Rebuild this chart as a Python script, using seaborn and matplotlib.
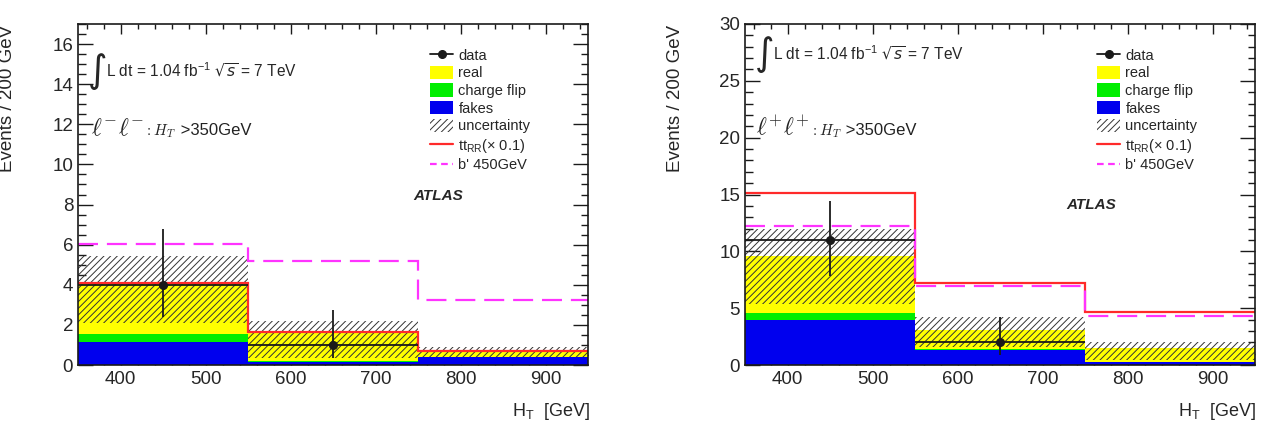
import pandas as pd
import matplotlib
matplotlib.use("Agg")
import matplotlib.pyplot as plt
from matplotlib.lines import Line2D
from matplotlib.patches import Patch
from matplotlib.ticker import MultipleLocator
import seaborn as sns

# bin edges / centres in H_T [GeV]
edges = [350, 550, 750, 950]
centers = [450, 650, 850]
components = ["real", "charge flip", "fakes"]

# l-l- channel
real_mm = [2.55, 1.40, 0.26]
flip_mm = [0.40, 0.05, 0.02]
fakes_mm = [1.15, 0.15, 0.40]
unc_lo_mm = [2.10, 0.35, 0.40]
unc_hi_mm = [5.45, 2.20, 0.92]
ttrr_mm = [4.10, 1.63, 0.68]
bprime_mm = [6.05, 5.17, 3.25]
data_mm = [4, 1]
data_lo_mm = [1.6, 0.65]
data_hi_mm = [2.8, 1.75]

# l+l+ channel
real_pp = [5.05, 1.70, 1.17]
flip_pp = [0.55, 0.10, 0.05]
fakes_pp = [4.00, 1.30, 0.25]
unc_lo_pp = [5.40, 1.60, 0.40]
unc_hi_pp = [12.0, 4.25, 2.05]
ttrr_pp = [15.1, 7.20, 4.65]
bprime_pp = [12.2, 6.95, 4.30]
data_pp = [11, 2]
data_lo_pp = [3.2, 1.1]
data_hi_pp = [3.4, 2.25]

W, H = 1271, 432

sns.set_theme(style="ticks")
plt.rcParams['font.family'] = ['Liberation Sans', 'DejaVu Sans']
plt.rcParams['hatch.linewidth'] = 0.7

colors = {"real": "#ffff00", "charge flip": "#00ee00", "fakes": "#0000ee"}
hatch_col = "#333333"
red = "#ff2a2a"
magenta = "#ff33ff"

fig = plt.figure(figsize=(W / 100, H / 100), dpi=100)


def px_axes(x0, x1, y0, y1):
    return fig.add_axes([x0 / W, 1 - y1 / H, (x1 - x0) / W, (y1 - y0) / H])


def draw_panel(ax, real, flip, fakes, unc_lo, unc_hi, ttrr, bprime,
               data, dlo, dhi, ymax, major, minor):
    df = pd.DataFrame({
        "HT": centers * 3,
        "events": list(real) + list(flip) + list(fakes),
        "comp": ["real"] * 3 + ["charge flip"] * 3 + ["fakes"] * 3,
    })
    sns.histplot(data=df, x="HT", weights="events", hue="comp",
                 hue_order=components, bins=edges, multiple="stack",
                 element="bars", shrink=1, palette=colors, alpha=1,
                 linewidth=0, legend=False, ax=ax)
    ax.stairs(unc_hi, edges, baseline=unc_lo, fill=True, facecolor="none",
              edgecolor=hatch_col, hatch="/////", linewidth=0)
    ax.stairs(ttrr, edges, baseline=None, color=red, lw=1.6)
    ax.stairs(bprime, edges, baseline=None, color=magenta, lw=1.6,
              ls=(0, (9, 4)))
    ax.errorbar(centers[:len(data)], data, xerr=100, yerr=[dlo, dhi],
                fmt="o", color="k", ms=5.5, lw=1.3, capsize=0, zorder=5)
    ax.set_xlim(350, 950)
    ax.set_ylim(0, ymax)
    ax.set_xlabel("")
    ax.set_ylabel("")
    ax.xaxis.set_major_locator(MultipleLocator(100))
    ax.xaxis.set_minor_locator(MultipleLocator(20))
    ax.yaxis.set_major_locator(MultipleLocator(major))
    ax.yaxis.set_minor_locator(MultipleLocator(minor))
    ax.tick_params(which="both", direction="in", top=True, right=True,
                   color="k", width=1, labelsize=13.5)
    ax.tick_params(axis="y", which="major", length=10.8, pad=3.5)
    ax.tick_params(axis="y", which="minor", length=5.4)
    ax.tick_params(axis="x", which="major", length=7.2, pad=4)
    ax.tick_params(axis="x", which="minor", length=3.6)
    for s in ax.spines.values():
        s.set_color("k")
        s.set_linewidth(1.2)
    ax.set_facecolor("white")


ax1 = px_axes(78, 588, 24, 365)
draw_panel(ax1, real_mm, flip_mm, fakes_mm, unc_lo_mm, unc_hi_mm, ttrr_mm,
           bprime_mm, data_mm, data_lo_mm, data_hi_mm, 17, 2, 0.5)
ax2 = px_axes(745, 1255, 24, 365)
draw_panel(ax2, real_pp, flip_pp, fakes_pp, unc_lo_pp, unc_hi_pp, ttrr_pp,
           bprime_pp, data_pp, data_lo_pp, data_hi_pp, 30, 5, 1)


def ftext(x, y, s, **kw):
    return fig.text(x / W, 1 - y / H, s, **kw)


handles = [
    Line2D([], [], color="k", marker="o", ms=5.5, lw=1.3),
    Patch(facecolor=colors["real"], edgecolor="none"),
    Patch(facecolor=colors["charge flip"], edgecolor="none"),
    Patch(facecolor=colors["fakes"], edgecolor="none"),
    Patch(facecolor="white", edgecolor=hatch_col, hatch="/////", lw=0),
    Line2D([], [], color=red, lw=1.6),
    Line2D([], [], color=magenta, lw=1.6, ls=(0, (3, 2))),
]
labels = ["data", "real", "charge flip", "fakes", "uncertainty",
          r"tt$_{\mathregular{RR}}$(× 0.1)", "b' 450GeV"]

panels = [
    (ax1, 78, 70, r"$\ell^{-}\ell^{-}$", 91, 135, 438, 196, 590),
    (ax2, 745, 53, r"$\ell^{+}\ell^{+}$", 756, 135, 1091, 205, 1256),
]
for ax, x0, ylum, lep, xlep, ylep, xatl, yatl, xlab in panels:
    # y label
    ftext(x0 - 70, 25, "Events / 200 GeV", rotation=90, ha="center",
          va="top", fontsize=13.5)
    # x label
    ftext(xlab, 411, r"H$_\mathregular{T}$  [GeV]", ha="right",
          va="center", fontsize=13)
    # luminosity
    ftext(x0 + 10, ylum + 2, "∫", family=["DejaVu Sans"], fontsize=27,
          ha="left", va="center")
    ftext(x0 + 28, ylum, r"L dt = 1.04 fb$^{\mathregular{-1}}$ $\sqrt{s}$ = 7 TeV",
          ha="left", va="center", fontsize=11.2)
    # channel label, all pieces on one baseline
    yb = 1 - ylep / H
    t1 = ftext(xlep, ylep, lep, fontsize=17, math_fontfamily="cm",
               ha="left", va="baseline", color="#222222")
    t2 = ax.annotate(r"$:H_T$", xy=(1, yb), xycoords=(t1, "figure fraction"),
                     fontsize=11, math_fontfamily="cm", ha="left",
                     va="baseline", color="#222222")
    ax.annotate(" >350GeV", xy=(1, yb), xycoords=(t2, "figure fraction"),
                fontsize=12, ha="left", va="baseline", color="#222222")
    # ATLAS
    ftext(xatl, yatl, "ATLAS", fontsize=11, weight="bold", style="italic",
          ha="center", va="center")
    # legend
    fig.legend(handles, labels, loc="upper left",
               bbox_to_anchor=((x0 + 352) / W, 1 - 48 / H),
               frameon=False, fontsize=10.5, handlelength=1.6,
               handleheight=1.0, handletextpad=0.35, labelspacing=0.22,
               borderpad=0, borderaxespad=0)

fig.savefig("out.png", dpi=100)
